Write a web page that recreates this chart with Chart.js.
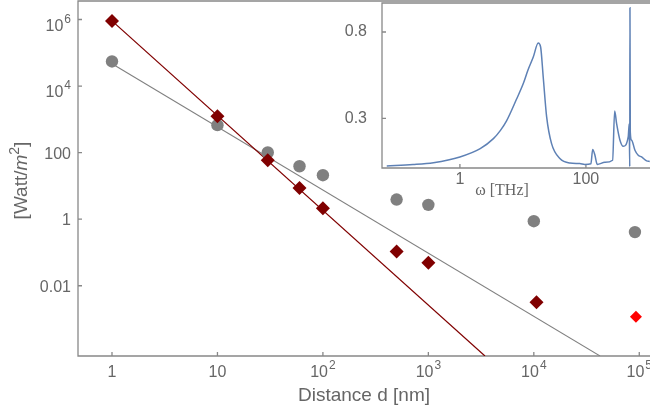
<!DOCTYPE html>
<html>
<head>
<meta charset="utf-8">
<script src="https://cdn.jsdelivr.net/npm/chart.js@4.4.1/dist/chart.umd.min.js"></script>
<style>
  html, body { margin: 0; padding: 0; background: #fff; overflow: hidden; }
  #wrap { position: relative; width: 650px; height: 413px; }
  #mainChart { position: absolute; left: 0; top: 0; }
  #insetChart { position: absolute; left: 330px; top: 0; }
</style>
</head>
<body>
<div id="wrap">
  <canvas id="mainChart" width="650" height="413"></canvas>
  <canvas id="insetChart" width="320" height="200"></canvas>
</div>
<script>
// main plot: power vs distance (log-log)
const distGray = [1, 10, 30, 60, 100, 500, 1000, 10000, 91000];
const powerGray = [55000, 670, 101, 39, 21, 3.9, 2.7, 0.87, 0.41];
const distRed = [1, 10, 30, 60, 100, 500, 1000, 10600];
const powerRed = [910000, 1230, 59, 8.6, 2.15, 0.108, 0.049, 0.0032];
const distHighlight = [93000];
const powerHighlight = [0.00118];
// fitted lines (start / end where they leave the frame)
const fitGrayX = [1, 42400];
const fitGrayY = [47000, 7.8e-5];
const fitRedX = [1, 3440];
const fitRedY = [910000, 7.8e-5];

const xTicks = [1, 10, 100, 1000, 10000, 100000];
const xTickLabels = ["1", "10", "10^2", "10^3", "10^4", "10^5"];
const yTicks = [0.01, 1, 100, 10000, 1000000];
const yTickLabels = ["0.01", "1", "100", "10^4", "10^6"];

// inset: spectrum vs omega
const omega = [0.069, 0.18, 0.38, 1, 2.1, 3.4, 4.4, 5.5, 7.9, 10.1, 12, 14.6, 17.5, 19.1, 21, 23.8, 28.5,
    38.6, 55.7, 80, 96, 120, 128, 139, 151, 200, 265, 286, 307, 347, 391, 469, 487, 496, 500,
    506, 531, 600, 676, 765, 919, 1030];
const spectrum = [0.024, 0.032, 0.043, 0.076, 0.124, 0.182, 0.23, 0.285, 0.41, 0.5, 0.578, 0.655, 0.736,
    0.713, 0.539, 0.308, 0.153, 0.067, 0.041, 0.038, 0.033, 0.037, 0.119, 0.086, 0.033, 0.045,
    0.057, 0.342, 0.269, 0.173, 0.138, 0.192, 0.269, 0.02, 0.94, 0.22, 0.173, 0.115, 0.086,
    0.076, 0.053, 0.05];
const insetXTicks = [1, 100];
const insetXTickLabels = ["1", "100"];
const insetYTicks = [0.3, 0.8];
const insetYTickLabels = ["0.3", "0.8"];

const axisColor = "#888";
const textColor = "#666";
const sansFont = "'Liberation Sans', Arial, sans-serif";
Chart.defaults.font.family = sansFont;
Chart.defaults.color = textColor;

function pts(xs, ys) {
    return xs.map((x, i) => ({ x: x, y: ys[i] }));
}

// keep the plot frame where it is: no extra room for overhanging labels
function noPad(s) {
    s.paddingLeft = 0;
    s.paddingRight = 0;
    s.paddingTop = 0;
    s.paddingBottom = 0;
}

// frame with inward ticks
function framePlugin(id, xt, yt) {
    return {
        id: id,
        beforeDatasetsDraw(chart) {
            const ctx = chart.ctx;
            const a = chart.chartArea;
            const x = chart.scales.x, y = chart.scales.y;
            ctx.save();
            ctx.strokeStyle = axisColor;
            ctx.lineWidth = 1.3;
            ctx.beginPath();
            ctx.moveTo(a.right, a.bottom);
            ctx.lineTo(a.left, a.bottom);
            ctx.lineTo(a.left, a.top);
            ctx.lineTo(a.right, a.top);
            xt.forEach(v => {
                const px = x.getPixelForValue(v);
                ctx.moveTo(px, a.bottom);
                ctx.lineTo(px, a.bottom - 4);
            });
            yt.forEach(v => {
                const py = y.getPixelForValue(v);
                ctx.moveTo(a.left, py);
                ctx.lineTo(a.left + 4, py);
            });
            ctx.stroke();
            ctx.restore();
        }
    };
}

// tick labels with real superscripts ("10^4") and the y title with italic m
const powerLabels = {
    id: "powerLabels",
    afterDraw(chart) {
        const ctx = chart.ctx;
        const a = chart.chartArea;
        const x = chart.scales.x, y = chart.scales.y;
        const baseFont = "16px " + sansFont;
        const expFont = "12px " + sansFont;
        ctx.save();
        ctx.fillStyle = textColor;
        ctx.textBaseline = "alphabetic";
        ctx.textAlign = "left";
        function widths(lab) {
            const parts = lab.split("^");
            ctx.font = baseFont;
            const wb = ctx.measureText(parts[0]).width;
            ctx.font = expFont;
            const we = parts[1] ? ctx.measureText(parts[1]).width + 1 : 0;
            return { parts, wb, we };
        }
        function draw(parts, x0, base, wb) {
            ctx.font = baseFont;
            ctx.fillText(parts[0], x0, base);
            if (parts[1]) {
                ctx.font = expFont;
                ctx.fillText(parts[1], x0 + wb + 1, base - 8);
            }
        }
        xTicks.forEach((v, i) => {
            const m = widths(xTickLabels[i]);
            const px = x.getPixelForValue(v);
            draw(m.parts, px - (m.wb + m.we) / 2, a.bottom + 21, m.wb);
        });
        yTicks.forEach((v, i) => {
            const m = widths(yTickLabels[i]);
            const py = y.getPixelForValue(v);
            const shift = m.parts[1] ? 5 : 0;
            draw(m.parts, a.left - 7 - m.wb - m.we, py + 6 + shift, m.wb);
        });

        // y title: [Watt/m^2], m in italics
        const pieces = [
            { t: "[Watt/", f: "19px " + sansFont, dy: 0 },
            { t: "m", f: "italic 19px " + sansFont, dy: 0 },
            { t: "2", f: "14px " + sansFont, dy: -8 },
            { t: "]", f: "19px " + sansFont, dy: 0 }
        ];
        let total = 0;
        pieces.forEach(p => { ctx.font = p.f; p.w = ctx.measureText(p.t).width; total += p.w; });
        ctx.translate(27, (a.top + a.bottom) / 2 + 2);
        ctx.rotate(-Math.PI / 2);
        let cx = -total / 2;
        pieces.forEach(p => {
            ctx.font = p.f;
            ctx.fillText(p.t, cx, p.dy);
            cx += p.w;
        });
        ctx.restore();
    }
};

new Chart(document.getElementById("mainChart"), {
    type: "scatter",
    data: {
        datasets: [
            {
                label: "highlight",
                data: pts(distHighlight, powerHighlight),
                pointStyle: "rectRot",
                pointRadius: 6,
                backgroundColor: "#ff0000",
                borderWidth: 0,
                order: 0
            },
            {
                label: "red",
                data: pts(distRed, powerRed),
                pointStyle: "rectRot",
                pointRadius: 7,
                backgroundColor: "#800000",
                borderWidth: 0,
                order: 1
            },
            {
                label: "gray",
                data: pts(distGray, powerGray),
                pointStyle: "circle",
                pointRadius: 6.2,
                backgroundColor: "#808080",
                borderWidth: 0,
                order: 2
            },
            {
                label: "fit red",
                type: "line",
                data: pts(fitRedX, fitRedY),
                borderColor: "#800000",
                borderWidth: 1.3,
                pointRadius: 0,
                order: 3
            },
            {
                label: "fit gray",
                type: "line",
                data: pts(fitGrayX, fitGrayY),
                borderColor: "#808080",
                borderWidth: 1.1,
                pointRadius: 0,
                order: 4
            }
        ]
    },
    options: {
        responsive: false,
        animation: false,
        layout: { autoPadding: false, padding: { top: 1, right: 0, left: 0, bottom: 0 } },
        plugins: { legend: { display: false }, tooltip: { enabled: false } },
        scales: {
            x: {
                type: "logarithmic",
                min: 0.476,
                max: 126400,
                afterBuildTicks: s => { s.ticks = xTicks.map(v => ({ value: v })); },
                afterFit: s => { s.height = 57; noPad(s); },
                grid: { display: false, drawTicks: false },
                border: { display: false },
                ticks: { display: false },
                title: {
                    display: true, text: "Distance d [nm]",
                    font: { size: 19 }, padding: { top: 0, bottom: 6 }
                }
            },
            y: {
                type: "logarithmic",
                min: 7.76e-5,
                max: 3.6e6,
                afterBuildTicks: s => { s.ticks = yTicks.map(v => ({ value: v })); },
                afterFit: s => { s.width = 78; noPad(s); },
                grid: { display: false, drawTicks: false },
                border: { display: false },
                ticks: { display: false }
            }
        }
    },
    plugins: [framePlugin("frameMain", xTicks, yTicks), powerLabels]
});

const insetTitle = {
    id: "insetTitle",
    afterDraw(chart) {
        const ctx = chart.ctx;
        const a = chart.chartArea;
        ctx.save();
        ctx.fillStyle = textColor;
        ctx.font = "16px 'Liberation Serif', serif";
        ctx.textAlign = "center";
        ctx.textBaseline = "middle";
        ctx.fillText("ω [THz]", (a.left + a.right) / 2 - 14, a.bottom + 23);
        ctx.restore();
    }
};

new Chart(document.getElementById("insetChart"), {
    type: "line",
    data: {
        datasets: [{
            data: pts(omega, spectrum),
            borderColor: "#5E81B5",
            borderWidth: 1.5,
            pointRadius: 0,
            cubicInterpolationMode: "monotone"
        }]
    },
    options: {
        responsive: false,
        animation: false,
        layout: { autoPadding: false, padding: { top: 3, right: 0, left: 0, bottom: 0 } },
        plugins: { legend: { display: false }, tooltip: { enabled: false } },
        scales: {
            x: {
                type: "logarithmic",
                min: 0.058,
                max: 1040,
                afterBuildTicks: s => { s.ticks = insetXTicks.map(v => ({ value: v })); },
                afterFit: s => { s.height = 32; noPad(s); },
                grid: { display: false, drawTicks: false },
                border: { display: false },
                ticks: {
                    autoSkip: false, maxRotation: 0, padding: 2,
                    font: { size: 16 },
                    callback: (v, i) => insetXTickLabels[i]
                }
            },
            y: {
                type: "linear",
                min: 0.012,
                max: 0.968,
                afterBuildTicks: s => { s.ticks = insetYTicks.map(v => ({ value: v })); },
                afterFit: s => { s.width = 52; noPad(s); },
                grid: { display: false, drawTicks: false },
                border: { display: false },
                ticks: {
                    autoSkip: false, padding: 15,
                    font: { size: 16 },
                    callback: (v, i) => insetYTickLabels[i]
                }
            }
        }
    },
    plugins: [framePlugin("frameInset", insetXTicks, insetYTicks), insetTitle]
});
</script>
</body>
</html>
